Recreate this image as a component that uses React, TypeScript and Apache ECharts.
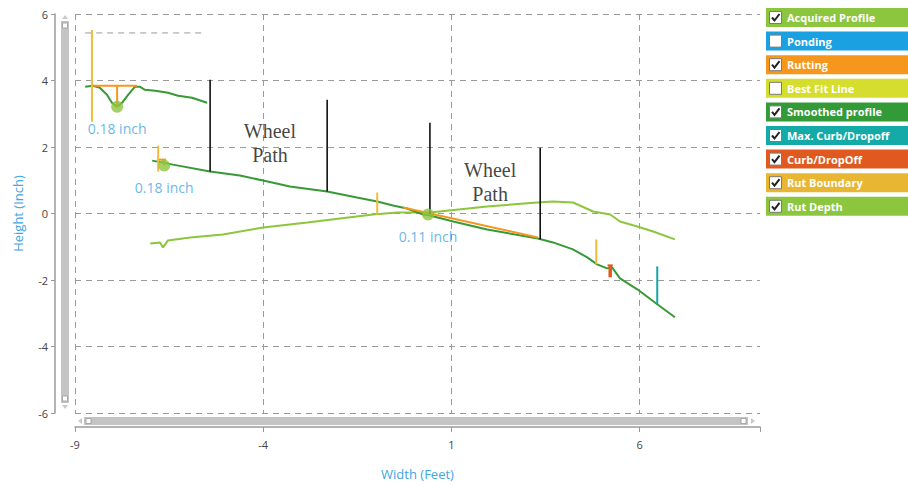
import React, { useEffect, useRef } from "react";
import * as echarts from "echarts";

// ---------- data ----------
const xTicks = [-9, -4, 1, 6];
const yTicks = [-6, -4, -2, 0, 2, 4, 6];

const acquiredX = [-7.0, -6.74, -6.66, -6.53, -5.94, -5.07, -4.0, -2.83, -1.96, -1.08, -0.44, 0.43, 1.95, 3.28, 3.7, 4.23, 4.77, 5.22, 5.48, 5.94, 6.36, 6.94];
const acquiredY = [-0.9, -0.87, -1.02, -0.81, -0.72, -0.63, -0.42, -0.27, -0.15, -0.03, 0.03, 0.03, 0.21, 0.33, 0.36, 0.33, 0.06, -0.03, -0.24, -0.39, -0.54, -0.78];

const smoothedTopX = [-8.73, -8.52, -8.34, -8.15, -8.02, -7.88, -7.75, -7.59, -7.41, -7.27, -7.14, -6.87, -6.53, -6.26, -5.89, -5.49];
const smoothedTopY = [3.81, 3.84, 3.78, 3.57, 3.33, 3.21, 3.33, 3.57, 3.81, 3.81, 3.72, 3.69, 3.63, 3.54, 3.48, 3.33];

const smoothedX = [-6.95, -6.66, -6.4, -5.41, -4.62, -4.0, -3.29, -2.3, -1.51, -0.97, -0.55, -0.18, 0.25, 0.43, 1.05, 1.95, 3.3, 3.7, 4.23, 4.61, 4.87, 5.14, 5.27, 5.48, 5.94, 6.47, 6.94];
const smoothedY = [1.59, 1.53, 1.47, 1.26, 1.14, 0.99, 0.81, 0.66, 0.48, 0.36, 0.24, 0.15, -0.03, -0.06, -0.24, -0.48, -0.75, -0.87, -1.08, -1.32, -1.53, -1.65, -1.62, -1.95, -2.28, -2.73, -3.12];

const rutStartX = [-8.52, -6.82, -0.28];
const rutStartY = [3.84, 1.62, 0.18];
const rutEndX = [-7.35, -6.58, 3.3];
const rutEndY = [3.84, 1.62, -0.72];
const rutDropX = [-7.88, -6.63];
const rutDropTop = [3.84, 1.62];
const rutDropBottom = [3.21, 1.44];

const rutBoundaryX = [-8.55, -6.79, -0.97, 4.85];
const rutBoundaryTop = [5.52, 2.04, 0.63, -0.78];
const rutBoundaryBottom = [2.76, 1.26, -0.03, -1.53];

const rutDepthX = [-7.88, -6.63, 0.38];
const rutDepthY = [3.21, 1.44, -0.03];
const rutDepthLabels = ["0.18 inch", "0.18 inch", "0.11 inch"];

const wheelX = [-5.41, -2.3, 0.43, 3.36];
const wheelTop = [4.02, 3.42, 2.73, 1.98];
const wheelBottom = [1.26, 0.66, -0.03, -0.78];
const wheelLabelX = [-3.82, 2.03];
const wheelLabelY = [2.12, 0.95];
const wheelLabelText = "Wheel\nPath";

const curbX = [5.22];
const curbTop = [-1.56];
const curbBottom = [-1.92];

const maxCurbX = [6.47];
const maxCurbTop = [-1.59];
const maxCurbBottom = [-2.73];

const refLineX = [-8.73, -5.54];
const refLineY = [5.43, 5.43];

const legendNames = ["Acquired Profile", "Ponding", "Rutting", "Best Fit Line", "Smoothed profile", "Max. Curb/Dropoff", "Curb/DropOff", "Rut Boundary", "Rut Depth"];
const legendColors = ["#8cc63f", "#1ba1e2", "#f7961d", "#d5de2f", "#339a38", "#13aaa7", "#e05a1f", "#e8b633", "#8cc63f"];
const legendChecked = [true, false, true, false, true, true, true, true, true];

// ---------- colours ----------
const C = {
  acquired: "#8cc63f",
  smoothed: "#369a36",
  rut: "#f7961d",
  boundary: "#f2bb3a",
  wheel: "#111111",
  curb: "#e05a1f",
  maxCurb: "#17a6a8",
  depth: "#8cc63f",
  label: "#41a5e1",
  grid: "#9a9a9a",
};

const zip = (xs: number[], ys: number[]) => xs.map((x, i) => [x, ys[i]]);

const line = (data: number[][], color: string, width: number, z: number, type: any = "solid") => ({
  type: "line",
  data,
  symbol: "none",
  silent: true,
  z,
  lineStyle: { color, width, type },
});

export default function App() {
  const ref = useRef<HTMLDivElement>(null);

  useEffect(() => {
    const chart = echarts.init(ref.current!, null, { renderer: "svg" });
    const series: any[] = [];

    series.push(line(zip(acquiredX, acquiredY), C.acquired, 2, 2));
    series.push(line(zip(smoothedTopX, smoothedTopY), C.smoothed, 2, 3));
    series.push(line(zip(smoothedX, smoothedY), C.smoothed, 2, 3));
    rutStartX.forEach((x, i) => series.push(line([[x, rutStartY[i]], [rutEndX[i], rutEndY[i]]], C.rut, 2, 4)));
    rutDropX.forEach((x, i) => series.push(line([[x, rutDropTop[i]], [x, rutDropBottom[i]]], C.rut, 2, 4)));
    rutBoundaryX.forEach((x, i) => series.push(line([[x, rutBoundaryTop[i]], [x, rutBoundaryBottom[i]]], C.boundary, 2, 4)));
    wheelX.forEach((x, i) => series.push(line([[x, wheelTop[i]], [x, wheelBottom[i]]], C.wheel, 1.6, 5)));
    curbX.forEach((x, i) => {
      series.push(line([[x, curbTop[i]], [x, curbBottom[i]]], C.curb, 3.5, 5));
      series.push(line([[x - 0.07, curbTop[i]], [x + 0.07, curbTop[i]]], C.curb, 2, 5));
    });
    maxCurbX.forEach((x, i) => series.push(line([[x, maxCurbTop[i]], [x, maxCurbBottom[i]]], C.maxCurb, 2, 5)));
    series.push(line(zip(refLineX, refLineY), C.grid, 1, 1, [6, 5]));

    series.push({
      type: "scatter",
      data: rutDepthX.map((x, i) => ({ value: [x, rutDepthY[i]], label: { formatter: rutDepthLabels[i] } })),
      symbol: "circle",
      symbolSize: 12,
      z: 6,
      silent: true,
      itemStyle: { color: C.depth },
      label: {
        show: true,
        position: "bottom",
        distance: 9,
        color: C.label,
        fontSize: 14,
        fontFamily: "Open Sans",
      },
    });

    series.push({
      type: "scatter",
      data: zip(wheelLabelX, wheelLabelY),
      symbolSize: 0,
      z: 6,
      silent: true,
      label: {
        show: true,
        position: "inside",
        formatter: wheelLabelText,
        color: "#111",
        fontSize: 20,
        lineHeight: 24,
        fontFamily: "Liberation Serif",
      },
    });

    // legend as graphic boxes
    const legendGraphics: any[] = [];
    legendNames.forEach((name, i) => {
      const top = 8 + i * 23.6;
      legendGraphics.push({
        type: "rect",
        shape: { x: 766, y: top, width: 142, height: 19 },
        style: { fill: legendColors[i] },
      });
      legendGraphics.push({
        type: "rect",
        shape: { x: 769.5, y: top + 3.5, width: 12, height: 12 },
        style: { fill: "#ffffff", stroke: "#7a7a7a", lineWidth: 1 },
      });
      if (legendChecked[i]) {
        legendGraphics.push({
          type: "polyline",
          shape: { points: [[772, top + 9.5], [774.5, top + 12.5], [779.5, top + 6]] },
          style: { stroke: "#222", lineWidth: 2, fill: null },
        });
      }
      legendGraphics.push({
        type: "text",
        x: 787,
        y: top + 9.5,
        style: {
          text: name,
          fill: "#ffffff",
          font: "bold 11px 'Open Sans'",
          textVerticalAlign: "middle",
        },
      });
    });

    const scrollGraphics: any[] = [
      // cover part of top grid line
      { type: "rect", shape: { x: 81, y: 11, width: 124, height: 6 }, style: { fill: "#fff" } },
      // vertical scrollbar
      { type: "rect", shape: { x: 61, y: 21, width: 8, height: 382 }, style: { fill: "#c4c4c4" } },
      { type: "rect", shape: { x: 62.5, y: 23, width: 5, height: 5 }, style: { fill: "#fff", stroke: "#999", lineWidth: 0.8 } },
      { type: "rect", shape: { x: 62.5, y: 396, width: 5, height: 5 }, style: { fill: "#fff", stroke: "#999", lineWidth: 0.8 } },
      { type: "polygon", shape: { points: [[62, 19], [68, 19], [65, 15]] }, style: { fill: "#c8c8c8" } },
      { type: "polygon", shape: { points: [[62, 405], [68, 405], [65, 409]] }, style: { fill: "#c8c8c8" } },
      // horizontal scrollbar
      { type: "rect", shape: { x: 84, y: 417, width: 664, height: 8 }, style: { fill: "#c4c4c4" } },
      { type: "rect", shape: { x: 86, y: 418.5, width: 5, height: 5 }, style: { fill: "#fff", stroke: "#999", lineWidth: 0.8 } },
      { type: "rect", shape: { x: 741, y: 418.5, width: 5, height: 5 }, style: { fill: "#fff", stroke: "#999", lineWidth: 0.8 } },
      { type: "polygon", shape: { points: [[82, 418], [82, 424], [78, 421]] }, style: { fill: "#c8c8c8" } },
      { type: "polygon", shape: { points: [[751, 418], [751, 424], [755, 421]] }, style: { fill: "#c8c8c8" } },
    ];

    const option: any = {
      animation: false,
      backgroundColor: "#ffffff",
      grid: { left: 75, right: 148, top: 14, bottom: 71, containLabel: false },
      xAxis: {
        type: "value",
        min: -9,
        max: 9.2,
        interval: 5,
        offset: 14,
        name: "Width (Feet)",
        nameLocation: "middle",
        nameGap: 40,
        nameTextStyle: { color: C.label, fontSize: 13, fontFamily: "Open Sans" },
        axisLine: { show: true, onZero: false, lineStyle: { color: "#9a9a9a", width: 1.5 } },
        axisTick: { show: true, length: 5, lineStyle: { color: "#9a9a9a" } },
        axisLabel: {
          color: "#444",
          fontSize: 11,
          fontFamily: "Open Sans",
          margin: 12,
          formatter: (v: number) => (xTicks.includes(v) ? String(v) : ""),
        },
        splitLine: { show: true, showMaxLine: false, lineStyle: { color: C.grid, type: [6, 5], width: 1 } },
      },
      yAxis: {
        type: "value",
        min: -6,
        max: 6,
        interval: 2,
        offset: 20,
        name: "Height (Inch)",
        nameLocation: "middle",
        nameGap: 31,
        nameTextStyle: { color: C.label, fontSize: 13, fontFamily: "Open Sans" },
        axisLine: { show: true, onZero: false, lineStyle: { color: "#9a9a9a", width: 1.5 } },
        axisTick: { show: true, length: 4, lineStyle: { color: "#9a9a9a" } },
        axisLabel: {
          color: "#444",
          fontSize: 11,
          fontFamily: "Open Sans",
          margin: 7,
          formatter: (v: number) => (yTicks.includes(v) ? String(v) : ""),
        },
        splitLine: { show: true, lineStyle: { color: C.grid, type: [6, 5], width: 1 } },
      },
      graphic: [...scrollGraphics, ...legendGraphics],
      series,
    };

    chart.setOption(option);
    return () => chart.dispose();
  }, []);

  return <div ref={ref} style={{ position: "fixed", left: 0, top: 0, width: 908, height: 485 }} />;
}
